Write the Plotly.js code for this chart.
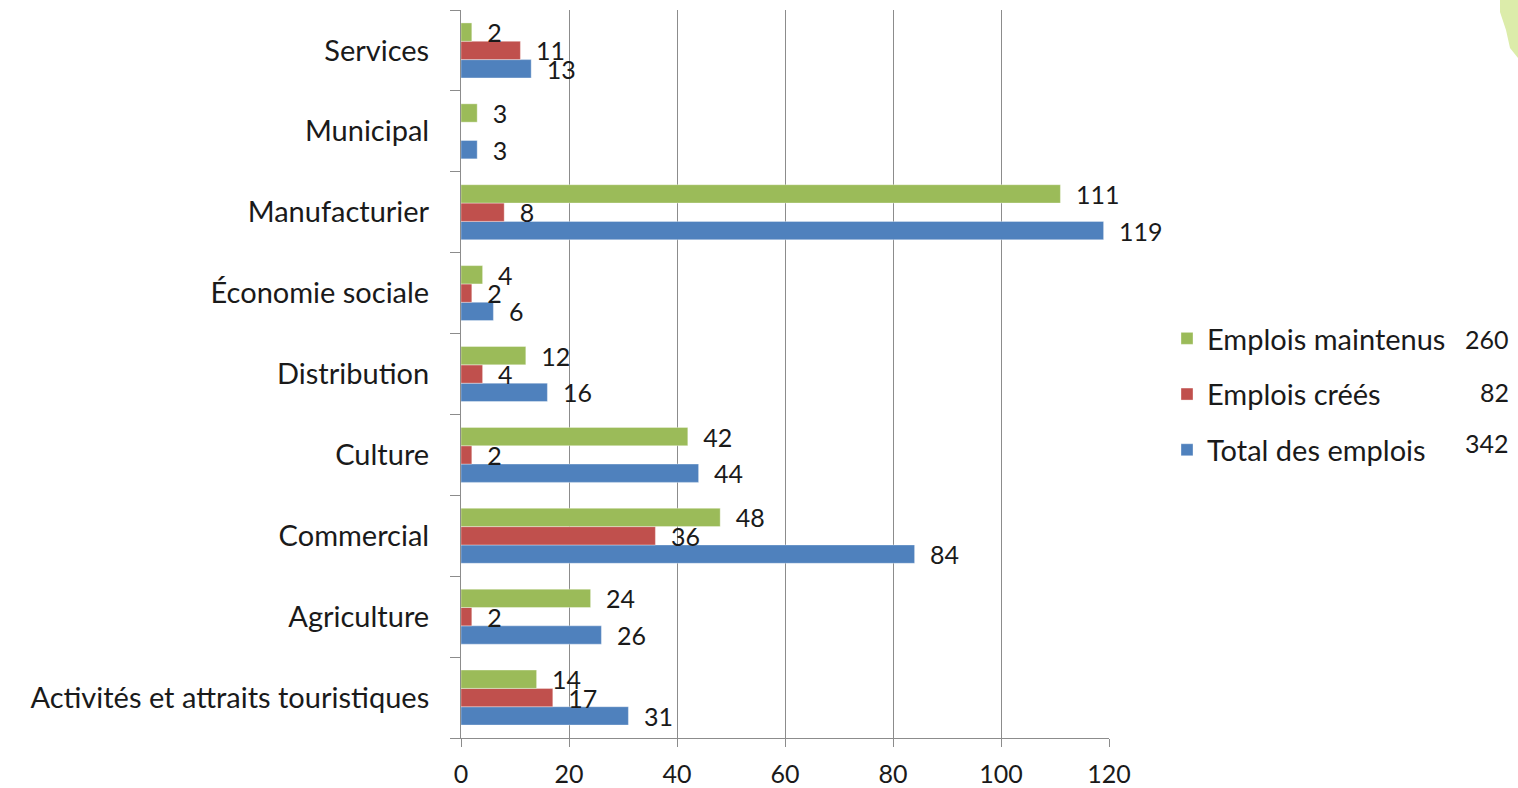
<!DOCTYPE html>
<html>
<head>
<meta charset="utf-8">
<script src="https://cdn.plot.ly/plotly-3.0.1.min.js"></script>
<style>html,body{margin:0;padding:0;background:#fff;}#chart{width:1518px;height:788px;}</style>
</head>
<body>
<div id="chart"></div>
<script>
const categories = [
  "Activités et attraits touristiques",
  "Agriculture",
  "Commercial",
  "Culture",
  "Distribution",
  "Économie sociale",
  "Manufacturier",
  "Municipal",
  "Services"
];
const emploisMaintenus = [14, 24, 48, 42, 12, 4, 111, 3, 2];
const emploisCrees = [17, 2, 36, 2, 4, 2, 8, null, 11];
const totalEmplois = [31, 26, 84, 44, 16, 6, 119, 3, 13];
const seriesNames = ["Emplois maintenus", "Emplois créés", "Total des emplois"];
const legendTotals = [260, 82, 342];
const xTicks = [0, 20, 40, 60, 80, 100, 120];

const FONT = "Lato, 'Open Sans', sans-serif";
const TXT = "#1a1a1a";
const colors = { maint: "#9BBB59", cree: "#C0504D", total: "#4F81BD" };

// pixel helpers for paper coords (plot area 461..1109 x, 10..738 y)
const L = 461, R = 1109, T = 10, B = 738;
const px = x => (x - L) / (R - L);
const py = y => (B - y) / (B - T);

function barTrace(name, vals, color, group, rank) {
  return {
    type: "bar", orientation: "h",
    name: name, y: categories, x: vals,
    marker: { color: color, line: { color: "rgba(255,255,255,0.35)", width: 1 } },
    text: vals.map(v => v == null ? "" : String(v)),
    texttemplate: "\u2002%{text}",
    textposition: "outside",
    constraintext: "none",
    cliponaxis: false,
    textfont: { family: FONT, size: 25, color: TXT },
    legendgroup: group, legendrank: rank,
    hoverinfo: "x+y+name"
  };
}

const data = [
  barTrace(seriesNames[2], totalEmplois, colors.total, "c", 3),
  barTrace(seriesNames[1], emploisCrees, colors.cree, "b", 2),
  barTrace(seriesNames[0], emploisMaintenus, colors.maint, "a", 1)
];

const annotations = legendTotals.map((t, i) => ({
  xref: "paper", yref: "paper",
  x: px(1511), y: py([339, 392, 443][i]),
  xanchor: "right", yanchor: "middle",
  text: String(t), showarrow: false,
  font: { family: FONT, size: 25, color: TXT }
}));

const layout = {
  width: 1518, height: 788,
  margin: { l: L, r: 1518 - R, t: T, b: 788 - B, pad: 0 },
  paper_bgcolor: "#ffffff", plot_bgcolor: "#ffffff",
  barmode: "group", bargap: 0.32, bargroupgap: 0,
  showlegend: true,
  legend: {
    x: px(1167), y: py(313), xanchor: "left", yanchor: "top",
    traceorder: "grouped", tracegroupgap: 15,
    font: { family: FONT, size: 29, color: TXT },
    bgcolor: "rgba(0,0,0,0)", itemwidth: 30
  },
  xaxis: {
    range: [0, 120], tickvals: xTicks, ticktext: xTicks.map(String),
    showgrid: true, gridcolor: "#8c8c8c", gridwidth: 1,
    zeroline: false, showline: true, linecolor: "#8c8c8c", linewidth: 1,
    ticks: "outside", ticklen: 8, tickcolor: "#8c8c8c",
    tickfont: { family: FONT, size: 25, color: TXT },
    ticklabelstandoff: 6, fixedrange: true
  },
  yaxis: {
    type: "category", categoryorder: "array", categoryarray: categories,
    range: [-0.5, categories.length - 0.5],
    showgrid: false, zeroline: false, showline: true, linecolor: "#8c8c8c", linewidth: 1,
    ticks: "outside", ticklen: 10, tickcolor: "#8c8c8c", tickson: "boundaries",
    tickfont: { family: FONT, size: 29, color: TXT },
    ticklabelstandoff: 25, fixedrange: true
  },
  annotations: annotations,
  shapes: [{
    type: "path", xref: "paper", yref: "paper",
    path: `M ${px(1500)},${py(0)} L ${px(1518)},${py(0)} L ${px(1518)},${py(58)} L ${px(1510)},${py(48)} L ${px(1506)},${py(30)} L ${px(1500)},${py(12)} Z`,
    fillcolor: "#dcecaa", line: { width: 0 }, layer: "below"
  }]
};

Plotly.newPlot("chart", data, layout, { displayModeBar: false, staticPlot: true });
</script>
</body>
</html>
